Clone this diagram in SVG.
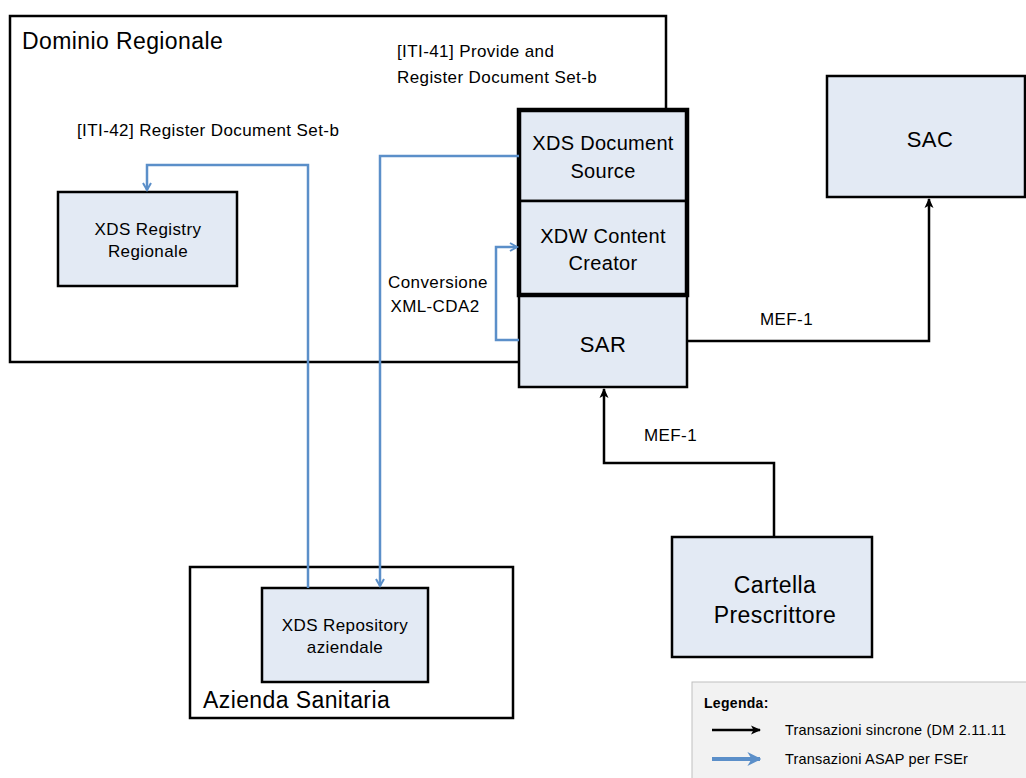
<svg xmlns="http://www.w3.org/2000/svg" width="1026" height="778" viewBox="0 0 1026 778">
<style>
text{font-family:"Liberation Sans",Arial,sans-serif;fill:#000}
.frame{fill:#fff;stroke:#000;stroke-width:2.5}
.node{fill:#e3eaf4;stroke:#000;stroke-width:2.5}
.heavy{fill:none;stroke:#000;stroke-width:4.5}
.blk{fill:none;stroke:#000;stroke-width:2.5}
.blu{fill:none;stroke:#5b8fc9;stroke-width:2.5}
.t15{font-size:17px;letter-spacing:0.4px}
.t19{font-size:20px;letter-spacing:0.3px}
.t22{font-size:23px;letter-spacing:0.4px}
.c{text-anchor:middle}
</style>
<defs>
<marker id="ab" viewBox="0 0 10 10" refX="9" refY="5" markerWidth="4.5" markerHeight="4" orient="auto" markerUnits="strokeWidth">
<path d="M0,0.5 L10,5 L0,9.5 L2.5,5 z" fill="#000"/>
</marker>
<marker id="au" viewBox="0 0 10 10" refX="8" refY="5" markerWidth="4" markerHeight="4" orient="auto" markerUnits="strokeWidth">
<path d="M1,1 L8,5 L1,9" fill="none" stroke="#5b8fc9" stroke-width="2"/>
</marker>
<marker id="lu" viewBox="0 0 10 10" refX="9" refY="5" markerWidth="3.5" markerHeight="3.5" orient="auto" markerUnits="strokeWidth">
<path d="M0,0 L10,5 L0,10 L3,5 z" fill="#5b8fc9"/>
</marker>
</defs>

<g id="dominio-regionale">
<rect class="frame" x="10" y="16" width="656" height="346"/>
<text x="22" y="49" class="t22">Dominio Regionale</text>
</g>

<g id="azienda-sanitaria">
<rect class="frame" x="190" y="567" width="323" height="151"/>
<text x="203" y="708" class="t22">Azienda Sanitaria</text>
</g>

<g id="xds-registry">
<rect class="node" x="58" y="192" width="179" height="94"/>
<text x="148" y="235" class="t15 c">XDS Registry</text>
<text x="148" y="257" class="t15 c">Regionale</text>
</g>

<g id="xds-repository">
<rect class="node" x="262" y="588" width="166" height="94"/>
<text x="345" y="631" class="t15 c">XDS Repository</text>
<text x="345" y="653" class="t15 c">aziendale</text>
</g>

<g id="sar">
<rect class="node" x="519" y="295" width="168" height="92"/>
<text x="603" y="352" class="t22 c" style="font-size:22px">SAR</text>
</g>

<g id="xds-document-source">
<rect class="node" x="519" y="110" width="168" height="91"/>
<text x="603" y="150" class="t19 c">XDS Document</text>
<text x="603" y="178" class="t19 c">Source</text>
</g>

<g id="xdw-content-creator">
<rect class="node" x="519" y="201" width="168" height="94"/>
<text x="603" y="243" class="t19 c">XDW Content</text>
<text x="603" y="270" class="t19 c">Creator</text>
</g>
<rect class="heavy" x="519" y="110" width="168" height="185"/>

<g id="sac">
<rect class="node" x="827" y="76" width="198" height="121"/>
<text x="930" y="147" class="t22 c" style="font-size:22px">SAC</text>
</g>

<g id="cartella-prescrittore">
<rect class="node" x="672" y="537" width="200" height="120"/>
<text x="775" y="593" class="t22 c">Cartella</text>
<text x="775" y="623" class="t22 c">Prescrittore</text>
</g>

<g id="connectors">
<path class="blk" d="M687,341 H929 V199" marker-end="url(#ab)"/>
<text x="760" y="325" class="t15">MEF-1</text>
<path class="blk" d="M774,537 V463 H604 V389" marker-end="url(#ab)"/>
<text x="644" y="441" class="t15">MEF-1</text>
<path class="blu" d="M308,588 V165 H147 V190" marker-end="url(#au)"/>
<text x="77" y="136" class="t15">[ITI-42] Register Document Set-b</text>
<path class="blu" d="M519,156 H380 V586" marker-end="url(#au)"/>
<text x="397" y="57" class="t15">[ITI-41] Provide and</text>
<text x="397" y="83" class="t15">Register Document Set-b</text>
<path class="blu" d="M519,340 H496 V247 H517" marker-end="url(#au)"/>
<text x="438" y="288" class="t15 c">Conversione</text>
<text x="435" y="312" class="t15 c">XML-CDA2</text>
</g>

<g id="legenda">
<rect x="692" y="682" width="340" height="100" fill="#f2f2f2" stroke="#bfbfbf" stroke-width="1"/>
<text x="704" y="708" font-size="14" font-weight="bold" letter-spacing="0.3">Legenda:</text>
<line x1="712" y1="730" x2="760" y2="730" stroke="#000" stroke-width="2.5" marker-end="url(#ab)"/>
<text x="785" y="735" font-size="14.5" letter-spacing="0.2">Transazioni sincrone (DM 2.11.11</text>
<line x1="712" y1="759" x2="760" y2="759" stroke="#5b8fc9" stroke-width="4" marker-end="url(#lu)"/>
<text x="785" y="764" font-size="14.5" letter-spacing="0.2">Transazioni ASAP per FSEr</text>
</g>
</svg>
